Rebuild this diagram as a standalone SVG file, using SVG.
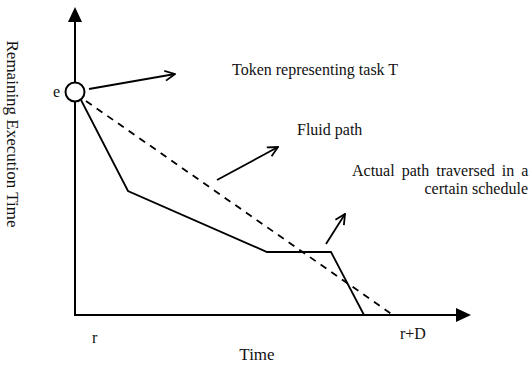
<svg xmlns="http://www.w3.org/2000/svg" width="529" height="368" viewBox="0 0 529 368">
  <style>
    text { font-family: "Liberation Serif", "Times New Roman", serif; font-size: 16px; fill: #111; }
    .axis { stroke: #000; stroke-width: 2; fill: none; }
    .path { stroke: #000; stroke-width: 1.8; fill: none; }
    .dash { stroke: #000; stroke-width: 1.8; fill: none; stroke-dasharray: 7 6; }
    .pointer { stroke: #000; stroke-width: 1.8; fill: none; marker-end: url(#open); }
  </style>
  <defs>
    <marker id="open" viewBox="0 0 12 12" refX="11" refY="6" markerWidth="12" markerHeight="12" markerUnits="userSpaceOnUse" orient="auto">
      <path d="M1 1 L11 6 L1 11" fill="none" stroke="#000" stroke-width="1.8"/>
    </marker>
  </defs>

  <!-- axes -->
  <g id="axes">
    <path class="axis" d="M75 21 V315 H456"/>
    <polygon points="75,7 68,22 82,22" fill="#000"/>
    <polygon points="471,315 456,308 456,322" fill="#000"/>
  </g>

  <g id="connectors">
    <!-- fluid (ideal) path -->
    <path class="dash" d="M86 101 L393 315"/>
    <!-- actual path traversed -->
    <path class="path" d="M81 100 L128 191 L267 252 L331 252 L364 315"/>
    <!-- label pointers -->
    <path class="pointer" d="M89 89 L175 74"/>
    <path class="pointer" d="M217 180 L278 147"/>
    <path class="pointer" d="M326 244 L345 214"/>
  </g>

  <!-- token at (r, e) -->
  <g id="token">
    <circle cx="75" cy="92" r="9.5" fill="#fff" stroke="#000" stroke-width="2"/>
    <text x="53" y="97">e</text>
  </g>

  <g id="labels">
    <text x="232" y="75">Token representing task T</text>
    <text x="297" y="135">Fluid path</text>
    <text x="352" y="176" word-spacing="3">Actual path traversed in a</text>
    <text x="528" y="194" text-anchor="end">certain schedule</text>
    <text x="92" y="343">r</text>
    <text x="400" y="339">r+D</text>
    <text x="257" y="360" text-anchor="middle" style="font-size:17px">Time</text>
    <text transform="translate(7 134) rotate(90)" text-anchor="middle" style="font-size:17px">Remaining Execution Time</text>
  </g>
</svg>
